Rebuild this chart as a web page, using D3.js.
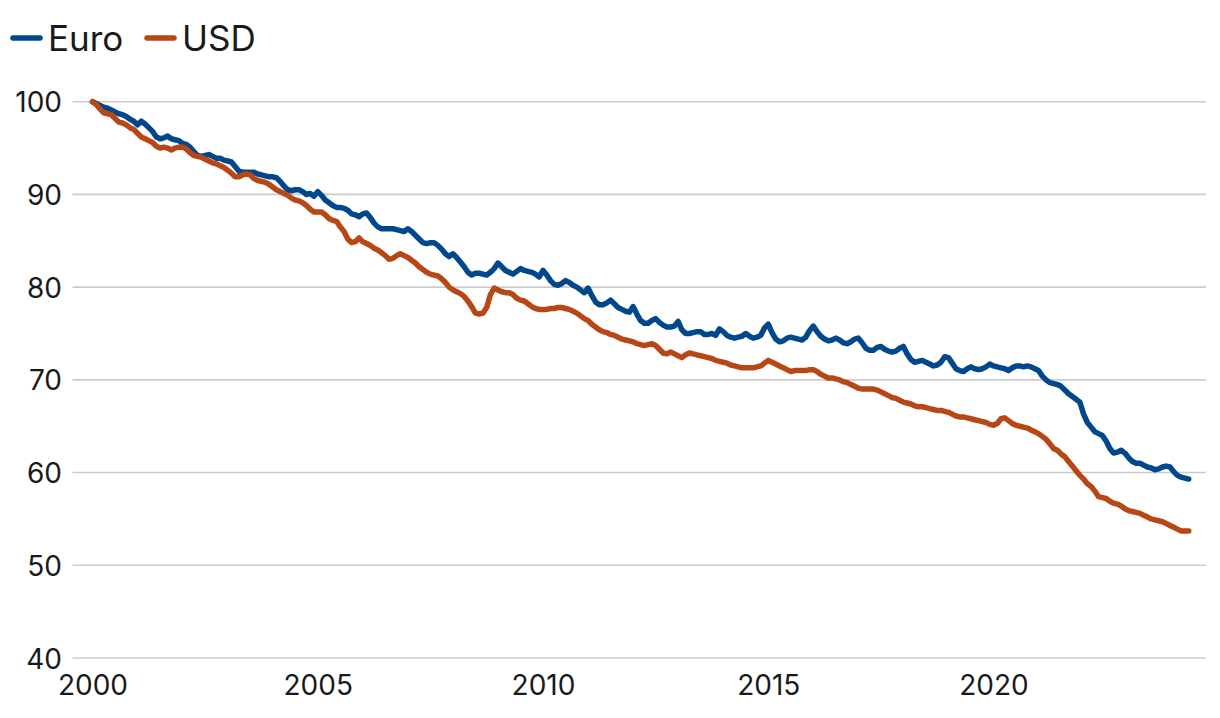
<!DOCTYPE html>
<html>
<head>
<meta charset="utf-8">
<script src="https://cdn.jsdelivr.net/npm/d3@7/dist/d3.min.js"></script>
<style>
  html, body { margin: 0; padding: 0; background: #ffffff; }
  svg { display: block; font-family: Inter, "Noto Sans", sans-serif; }
</style>
</head>
<body>
<svg id="chart" width="1220" height="718"></svg>
<script>
// Monthly index values, Jan 2000 onwards (2000 = 100)
const startYear = 2000;
const seriesNames = ["Euro", "USD"];
const seriesColors = ["#00478c", "#b84716"];

const euroValues = [
  100.0, 99.8, 99.6, 99.4, 99.3, 99.1, 98.9, 98.7, 98.6, 98.4, 98.1, 97.9,
  97.5, 97.9, 97.6, 97.2, 96.8, 96.2, 96.0, 96.1, 96.3, 96.0, 95.9, 95.8,
  95.5, 95.4, 95.1, 94.6, 94.2, 94.1, 94.2, 94.3, 94.1, 93.9, 93.9, 93.7,
  93.6, 93.5, 93.0, 92.5, 92.4, 92.4, 92.4, 92.4, 92.2, 92.1, 92.0, 91.9,
  91.9, 91.8, 91.4, 90.9, 90.5, 90.4, 90.5, 90.5, 90.3, 90.0, 90.1, 89.8,
  90.3, 89.9, 89.4, 89.1, 88.8, 88.6, 88.6, 88.5, 88.3, 87.9, 87.8, 87.6,
  87.9, 88.0, 87.5, 86.9, 86.5, 86.3, 86.3, 86.3, 86.3, 86.2, 86.1, 86.0,
  86.3, 86.0, 85.6, 85.2, 84.8, 84.7, 84.8, 84.8, 84.5, 84.1, 83.6, 83.3,
  83.6, 83.2, 82.7, 82.2, 81.6, 81.3, 81.5, 81.5, 81.4, 81.3, 81.6, 82.0,
  82.6, 82.2, 81.8, 81.6, 81.4, 81.7, 82.0, 81.8, 81.7, 81.6, 81.4, 81.1,
  81.8, 81.3, 80.7, 80.3, 80.2, 80.4, 80.7, 80.5, 80.2, 80.0, 79.7, 79.4,
  79.9, 79.1, 78.4, 78.1, 78.1, 78.3, 78.6, 78.2, 77.8, 77.6, 77.4, 77.3,
  77.9, 77.1, 76.4, 76.1, 76.1, 76.4, 76.6, 76.2, 75.9, 75.7, 75.7, 75.8,
  76.3, 75.4, 75.0, 75.0, 75.1, 75.2, 75.2, 74.9, 74.9, 75.0, 74.8, 75.5,
  75.2, 74.8, 74.6, 74.5, 74.6, 74.7, 75.0, 74.7, 74.5, 74.6, 74.8, 75.6,
  76.0, 75.1, 74.4, 74.1, 74.2, 74.5, 74.6, 74.5, 74.4, 74.3, 74.6, 75.3,
  75.8, 75.2, 74.7, 74.4, 74.2, 74.3, 74.5, 74.3, 74.0, 73.9, 74.1, 74.4,
  74.5, 74.0, 73.4, 73.2, 73.2, 73.5, 73.6, 73.3, 73.1, 73.0, 73.1, 73.4,
  73.6, 72.8, 72.2, 71.9, 72.0, 72.1, 71.9, 71.7, 71.5, 71.6, 71.9, 72.5,
  72.4, 71.8, 71.2, 71.0, 70.9, 71.2, 71.4, 71.2, 71.1, 71.2, 71.4, 71.7,
  71.5, 71.4, 71.3, 71.2, 71.0, 71.3, 71.5, 71.5, 71.4, 71.5, 71.4, 71.2,
  71.0, 70.4, 70.0, 69.7, 69.6, 69.5, 69.3, 68.9, 68.5, 68.2, 67.9, 67.6,
  66.3, 65.4, 64.9, 64.4, 64.2, 64.0, 63.4, 62.6, 62.1, 62.2, 62.4, 62.1,
  61.6, 61.2, 61.0, 61.0, 60.8, 60.6, 60.5, 60.3, 60.4, 60.6, 60.7, 60.6,
  60.1, 59.7, 59.5, 59.4, 59.3
];

const usdValues = [
  100.0, 99.7, 99.2, 98.8, 98.7, 98.6, 98.2, 97.8, 97.7, 97.5, 97.2, 97.0,
  96.6, 96.2, 96.0, 95.8, 95.6, 95.2, 95.0, 95.1, 95.0, 94.8, 95.0, 95.1,
  95.1, 94.9, 94.5, 94.2, 94.1, 94.0, 93.8, 93.6, 93.4, 93.3, 93.1, 92.9,
  92.6, 92.3, 91.9, 91.9, 92.1, 92.2, 92.1, 91.7, 91.5, 91.4, 91.3, 91.1,
  90.8, 90.5, 90.3, 90.1, 89.9, 89.6, 89.4, 89.3, 89.1, 88.8, 88.4, 88.1,
  88.1, 88.1, 87.8, 87.4, 87.2, 87.1, 86.5, 86.0, 85.2, 84.8, 84.9, 85.3,
  84.9, 84.7, 84.5, 84.2, 84.0, 83.7, 83.4, 83.0, 83.1, 83.4, 83.6, 83.4,
  83.2, 82.9, 82.6, 82.2, 81.9, 81.6, 81.4, 81.3, 81.2, 80.9, 80.5, 80.0,
  79.7, 79.5, 79.3, 79.0, 78.5, 77.9, 77.2, 77.1, 77.2, 77.8, 79.2, 79.9,
  79.7, 79.5, 79.4, 79.4, 79.2, 78.8, 78.6, 78.5, 78.2, 77.9, 77.7, 77.6,
  77.6, 77.6, 77.7, 77.7, 77.8, 77.8, 77.7, 77.6, 77.4, 77.2, 76.9, 76.6,
  76.4, 76.0, 75.7, 75.4, 75.2, 75.1, 74.9, 74.8, 74.6, 74.4, 74.3, 74.2,
  74.1, 73.9, 73.8, 73.7, 73.8, 73.9, 73.7, 73.3, 72.9, 72.8, 73.0, 72.8,
  72.6, 72.4, 72.7, 72.9, 72.8, 72.7, 72.6, 72.5, 72.4, 72.3, 72.1, 72.0,
  71.9, 71.8, 71.6, 71.5, 71.4, 71.3, 71.3, 71.3, 71.3, 71.4, 71.5, 71.8,
  72.1, 71.9, 71.7, 71.5, 71.3, 71.1, 70.9, 71.0, 71.0, 71.0, 71.0, 71.1,
  71.1, 70.9, 70.6, 70.4, 70.2, 70.2, 70.1, 70.0, 69.8, 69.7, 69.5, 69.3,
  69.1, 69.0, 69.0, 69.0, 69.0, 68.9, 68.7, 68.5, 68.3, 68.1, 68.0, 67.8,
  67.6, 67.5, 67.4, 67.2, 67.1, 67.1, 67.0, 66.9, 66.8, 66.7, 66.7, 66.6,
  66.5, 66.3, 66.1, 66.0, 66.0, 65.9, 65.8, 65.7, 65.6, 65.5, 65.4, 65.2,
  65.1, 65.3, 65.8, 65.9, 65.6, 65.3, 65.1, 65.0, 64.9, 64.8, 64.6, 64.4,
  64.2, 63.9, 63.6, 63.1, 62.6, 62.4, 62.0, 61.7, 61.2, 60.7, 60.2, 59.7,
  59.3, 58.8, 58.5, 58.0, 57.4, 57.3, 57.2, 56.9, 56.7, 56.6, 56.4, 56.1,
  55.9, 55.8, 55.7, 55.6, 55.4, 55.2, 55.0, 54.9, 54.8, 54.7, 54.5, 54.3,
  54.1, 53.9, 53.7, 53.7, 53.7
];

const yTicks = [40, 50, 60, 70, 80, 90, 100];
const xTicks = [2000, 2005, 2010, 2015, 2020];

const svg = d3.select("#chart");

const x = d3.scaleLinear().domain([2000, 2020]).range([92.5, 993.5]);
const y = d3.scaleLinear().domain([40, 100]).range([658, 101.7]);
const gridLeft = 72.5, gridRight = 1206;

// gridlines
svg.append("g")
  .selectAll("line")
  .data(yTicks)
  .join("line")
  .attr("x1", gridLeft).attr("x2", gridRight)
  .attr("y1", d => y(d)).attr("y2", d => y(d))
  .attr("stroke", "#cccccc").attr("stroke-width", 1.6);

// y axis labels
const yAxis = d3.axisLeft(y).tickValues(yTicks).tickSize(0).tickPadding(0);
const gy = svg.append("g").attr("transform", "translate(62,0)").call(yAxis);
gy.select(".domain").remove();
gy.selectAll("text")
  .attr("font-family", "Inter, sans-serif")
  .attr("font-size", 28)
  .attr("fill", "#1a1a1a")
  .attr("dy", "0.36em");

// x axis labels
const xAxis = d3.axisBottom(x).tickValues(xTicks).tickFormat(d3.format("d")).tickSize(0).tickPadding(0);
const gx = svg.append("g").attr("transform", "translate(0,675)").call(xAxis);
gx.select(".domain").remove();
gx.selectAll("text")
  .attr("font-family", "Inter, sans-serif")
  .attr("font-size", 28)
  .attr("fill", "#1a1a1a")
  .attr("dy", "0.71em");

// lines
const allSeries = [euroValues, usdValues];
const line = d3.line()
  .x((d, i) => x(startYear + i / 12))
  .y(d => y(d))
  .curve(d3.curveLinear);

svg.append("g")
  .selectAll("path")
  .data(allSeries)
  .join("path")
  .attr("d", d => line(d))
  .attr("fill", "none")
  .attr("stroke", (d, i) => seriesColors[i])
  .attr("stroke-width", 5.5)
  .attr("stroke-linejoin", "round")
  .attr("stroke-linecap", "round");

// legend
const legendX = [13, 147];
const lg = svg.append("g");
seriesNames.forEach((name, i) => {
  lg.append("line")
    .attr("x1", legendX[i]).attr("x2", legendX[i] + 27)
    .attr("y1", 38).attr("y2", 38)
    .attr("stroke", seriesColors[i]).attr("stroke-width", 5.5)
    .attr("stroke-linecap", "round");
  lg.append("text")
    .attr("x", legendX[i] + 35).attr("y", 38)
    .attr("dy", "0.36em")
    .attr("font-family", "Inter, sans-serif")
    .attr("font-size", 35)
    .attr("fill", "#1a1a1a")
    .text(name);
});
</script>
</body>
</html>
